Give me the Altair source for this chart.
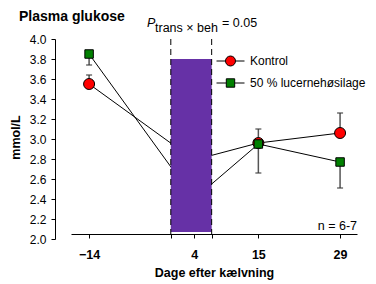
import altair as alt
import pandas as pd

# ---- data ----
days = [-14, 4, 15, 29]
series_names = ["Kontrol", "50 % lucernehøsilage"]
kontrol_mean = [3.55, 2.79, 2.96, 3.06]
kontrol_err_end = [3.64, None, 3.10, 3.26]     # error bars drawn upward
lucerne_mean = [3.85, 2.40, 2.95, 2.77]
lucerne_err_end = [3.74, None, 2.66, 2.51]     # error bars drawn downward

period_start, period_end = 0, 7          # transition period (dashed lines)
box_bottom, box_top = 2.07, 3.8

x_ticks = [-14, 0, 4, 7, 15, 29]
x_labels = [-14, 4, 15, 29]
y_ticks = [2.0, 2.2, 2.4, 2.6, 2.8, 3.0, 3.2, 3.4, 3.6, 3.8, 4.0]

colors = ["#FF0000", "#008000"]
FONT = "Liberation Sans"

rows = []
for name, means, ends in [(series_names[0], kontrol_mean, kontrol_err_end),
                          (series_names[1], lucerne_mean, lucerne_err_end)]:
    for d, m, e in zip(days, means, ends):
        rows.append({"day": d, "series": name, "mean": m, "err_end": e})
df = pd.DataFrame(rows)

xs = alt.Scale(domain=[-17.1, 31.9], nice=False, zero=False)
ys = alt.Scale(domain=[2.0, 4.0], nice=False, zero=False)

x_axis = alt.Axis(values=x_ticks, format="d", tickCount=len(x_ticks),
                  labelExpr="indexof([" + ",".join(str(v) for v in x_labels) + "], datum.value) >= 0 ? datum.label : ''",
                  title="Dage efter kælvning", titleFont=FONT, titleFontSize=12.5, titleFontWeight="bold",
                  titleY=42, titleBaseline="alphabetic", titleColor="black",
                  labelFont=FONT, labelFontSize=12.5, labelFontWeight="bold", labelColor="black",
                  labelPadding=10, tickSize=4, tickColor="black", domainColor="black",
                  grid=False, offset=-5, labelFlush=False, labelOverlap=False)
y_axis = alt.Axis(values=y_ticks, format=".1f", tickCount=len(y_ticks),
                  title="mmol/L", titleFont=FONT, titleFontSize=12.5, titleFontWeight="bold",
                  titleX=-40, titleY=98, titleAngle=270, titleAlign="center", titleBaseline="middle",
                  titleColor="black",
                  labelFont=FONT, labelFontSize=12, labelColor="black", labelPadding=5,
                  tickSize=4, tickColor="black", domainColor="black", grid=False, offset=16,
                  labelOverlap=False, labelFlush=False)

base = alt.Chart(df)

lines = base.mark_line(color="black", strokeWidth=1).encode(
    x=alt.X("day:Q", scale=xs, axis=x_axis),
    y=alt.Y("mean:Q", scale=ys, axis=y_axis),
    detail="series:N",
    order="day:Q",
)

err = base.transform_filter("isValid(datum.err_end)")
err_rules = err.mark_rule(color="#555555", strokeWidth=1.5).encode(
    x="day:Q", y="mean:Q", y2="err_end:Q")
err_caps = err.mark_tick(color="#333333", orient="horizontal", size=6, thickness=1.5).encode(
    x="day:Q", y="err_end:Q")

points = base.mark_point(filled=True, stroke="black", strokeWidth=1, opacity=1).encode(
    x="day:Q", y="mean:Q",
    color=alt.Color("series:N", scale=alt.Scale(domain=series_names, range=colors), legend=None),
    shape=alt.Shape("series:N", scale=alt.Scale(domain=series_names, range=["circle", "square"]), legend=None),
    size=alt.Size("series:N", scale=alt.Scale(domain=series_names, range=[121, 72]), legend=None),
)

circle_path = "M-1,0H-0.36M0.36,0H1M0.357,0A0.357,0.357 0 1,1 -0.357,0A0.357,0.357 0 1,1 0.357,0Z"
square_path = "M-1,0H-0.3M0.3,0H1M-0.3,-0.3H0.3V0.3H-0.3Z"
leg = alt.Legend(title=None, orient="none", legendX=145, legendY=7.5, padding=0,
                 labelFont=FONT, labelFontSize=12, labelColor="black", labelOffset=5,
                 rowPadding=-16.5, symbolStrokeWidth=1, symbolStrokeColor="black",
                 symbolSize=784)
legend_layer = base.transform_filter(alt.datum.day == 4).mark_point(
    filled=True, stroke="black", strokeWidth=1, size=784, opacity=1).encode(
    x="day:Q", y="mean:Q",
    color=alt.Color("series:N", scale=alt.Scale(domain=series_names, range=colors), legend=leg),
    shape=alt.Shape("series:N", scale=alt.Scale(domain=series_names, range=[circle_path, square_path]), legend=leg),
)

period_df = pd.DataFrame({"start": [period_start], "end": [period_end],
                          "bottom": [box_bottom], "top": [box_top]})
box = alt.Chart(period_df).mark_rect(color="#6631A6").encode(
    x="start:Q", x2="end:Q", y="bottom:Q", y2="top:Q")

dash_df = pd.DataFrame({"x": [period_start, period_end]})
dashes = alt.Chart(dash_df).mark_rule(color="black", strokeWidth=1, strokeDash=[6, 4]).encode(x="x:Q")

def txt(s, x, y, size=12.5, weight="normal", style="normal", align="left", baseline="alphabetic"):
    return alt.Chart(pd.DataFrame({"t": [s]})).mark_text(
        font=FONT, fontSize=size, fontWeight=weight, fontStyle=style, align=align,
        baseline=baseline, color="black").encode(x=alt.value(x), y=alt.value(y), text="t:N")

title = txt("Plasma glukose", -52, -18, size=14, weight="bold")
p1 = txt("P", 76, -11.7, style="italic")
p2 = txt("trans × beh", 84, -7.3)
p3 = txt("= 0.05", 151, -11.7)
ntext = txt("n = 6-7", 286, 191, align="right")

chart = alt.layer(lines, err_rules, err_caps, points, legend_layer, box, dashes,
                  title, p1, p2, p3, ntext).resolve_scale(
    color="independent", shape="independent", size="independent"
).properties(
    width=286, height=200,
    autosize=alt.AutoSizeParams(type="none"),
    padding={"left": 63, "top": 31, "right": 11, "bottom": 43},
).configure_view(stroke=None)

chart.save("out.html", embed_options={"renderer": "svg", "actions": False})
